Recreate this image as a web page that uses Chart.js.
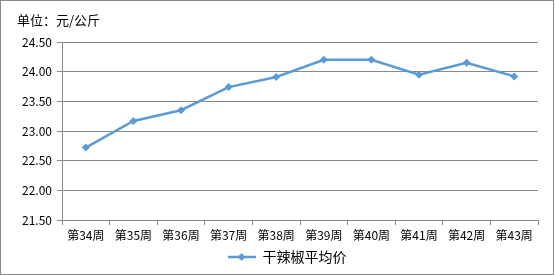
<!DOCTYPE html>
<html>
<head>
<meta charset="utf-8">
<script src="https://cdn.jsdelivr.net/npm/chart.js@4"></script>
<style>
  html, body { margin: 0; padding: 0; background: #fff; }
  #wrap { position: relative; width: 555px; height: 275px; }
  #chart { position: absolute; left: 0; top: 0; }
  #frame { position: absolute; left: 0; top: 0; width: 554px; height: 275px; box-sizing: border-box; border: 1px solid #898989; pointer-events: none; }
  #unit { position: absolute; left: 17px; top: 11px; font: 13px 'Noto Sans CJK SC', sans-serif; line-height: 18px; color: #000; }
</style>
</head>
<body>
<div id="wrap">
  <canvas id="chart" width="555" height="275"></canvas>
  <div id="frame"></div>
  <div id="unit">单位：元/公斤</div>
</div>
<script>
'use strict';

// week labels and average price (元/公斤)
const weeks = ['第34周', '第35周', '第36周', '第37周', '第38周', '第39周', '第40周', '第41周', '第42周', '第43周'];
const prices = [22.72, 23.17, 23.35, 23.74, 23.91, 24.20, 24.20, 23.95, 24.15, 23.92];
const seriesName = '干辣椒平均价';

const lineColor = '#5B9BD5';
const axisGray = '#898989';
const tickFont = { family: "'Noto Sans CJK SC', sans-serif", size: 12 };

// legend symbol: short line with a diamond in the middle
const legendIcon = document.createElement('canvas');
legendIcon.width = 28;
legendIcon.height = 10;
(() => {
  const c = legendIcon.getContext('2d');
  c.strokeStyle = lineColor;
  c.lineWidth = 2.5;
  c.beginPath(); c.moveTo(0, 5); c.lineTo(28, 5); c.stroke();
  c.fillStyle = lineColor;
  c.beginPath(); c.moveTo(14, 1); c.lineTo(18, 5); c.lineTo(14, 9); c.lineTo(10, 5); c.closePath(); c.fill();
})();

// nudge the legend a bit right, to sit under the plot like the original
const legendShift = {
  id: 'legendShift',
  afterLayout(chart) {
    if (chart.legend) { chart.legend.left += 8; chart.legend.right += 8; }
  },
};

new Chart(document.getElementById('chart'), {
  type: 'line',
  data: {
    labels: weeks,
    datasets: [{
      label: seriesName,
      data: prices,
      borderColor: lineColor,
      backgroundColor: lineColor,
      borderWidth: 2.5,
      pointStyle: 'rectRot',
      pointRadius: 4,
      pointBorderWidth: 0,
      tension: 0,
    }],
  },
  options: {
    responsive: false,
    animation: false,
    layout: { padding: { top: 42, left: 20, right: 17, bottom: 1 } },
    plugins: {
      legend: {
        position: 'bottom',
        labels: {
          usePointStyle: true,
          pointStyle: legendIcon,
          pointStyleWidth: 28,
          padding: 2,
          color: '#000',
          font: { family: "'Noto Sans CJK SC', sans-serif", size: 14 },
        },
      },
      tooltip: { enabled: false },
    },
    scales: {
      x: {
        offset: true,
        afterFit: (s) => { s.height = 28; },
        grid: { offset: true, drawOnChartArea: false, drawTicks: true, tickLength: 5, color: axisGray },
        border: { display: true, color: axisGray },
        ticks: { color: '#000', font: tickFont, padding: 3, maxRotation: 0, autoSkip: false },
      },
      y: {
        min: 21.5,
        max: 24.5,
        afterFit: (s) => { s.width = 42; },
        grid: { color: axisGray, tickLength: 5 },
        border: { display: true, color: axisGray },
        ticks: { stepSize: 0.5, color: '#000', font: tickFont, padding: 5, callback: (v) => v.toFixed(2) },
      },
    },
  },
  plugins: [legendShift],
});
</script>
</body>
</html>
